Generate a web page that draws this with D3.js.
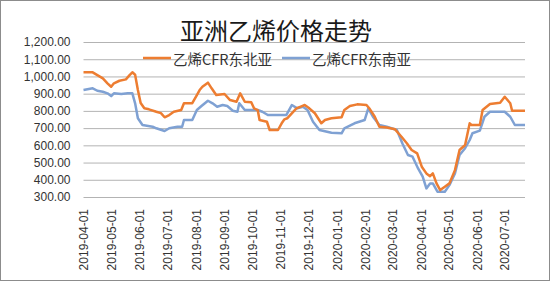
<!DOCTYPE html>
<html>
<head>
<meta charset="utf-8">
<script src="https://cdn.jsdelivr.net/npm/d3@7"></script>
<style>
  body { margin: 0; background: #fff; }
  svg { display: block; font-family: "Open Sans", "Noto Sans CJK SC", sans-serif; }
</style>
</head>
<body>
<div id="chart"></div>
<script>
// series names and tick labels
var seriesNames = ["乙烯CFR东北亚", "乙烯CFR东南亚"];
var yTicks = [300, 400, 500, 600, 700, 800, 900, 1000, 1100, 1200];
var xTicks = ["2019-04-01", "2019-05-01", "2019-06-01", "2019-07-01", "2019-08-01", "2019-09-01",
  "2019-10-01", "2019-11-01", "2019-12-01", "2020-01-01", "2020-02-01", "2020-03-01",
  "2020-04-01", "2020-05-01", "2020-06-01", "2020-07-01"];

// 乙烯CFR东北亚
var neDates = ["2019-04-01", "2019-04-11", "2019-04-16", "2019-04-22", "2019-04-27", "2019-05-01", "2019-05-04",
  "2019-05-10", "2019-05-17", "2019-05-21", "2019-05-24", "2019-05-27", "2019-05-30", "2019-06-02", "2019-06-06",
  "2019-06-11", "2019-06-19", "2019-06-24", "2019-06-28", "2019-07-03", "2019-07-08", "2019-07-16", "2019-07-19",
  "2019-07-28", "2019-08-02", "2019-08-05", "2019-08-08", "2019-08-14", "2019-08-18", "2019-08-23", "2019-09-01",
  "2019-09-07", "2019-09-14", "2019-09-18", "2019-09-23", "2019-09-30", "2019-10-03", "2019-10-07", "2019-10-09",
  "2019-10-17", "2019-10-20", "2019-10-29", "2019-11-02", "2019-11-05", "2019-11-08", "2019-11-13", "2019-11-18",
  "2019-11-24", "2019-11-27", "2019-12-02", "2019-12-08", "2019-12-15", "2019-12-19", "2019-12-26", "2020-01-06",
  "2020-01-09", "2020-01-15", "2020-01-23", "2020-02-02", "2020-02-05", "2020-02-11", "2020-02-16", "2020-02-24",
  "2020-03-04", "2020-03-11", "2020-03-17", "2020-03-22", "2020-03-28", "2020-04-02", "2020-04-07", "2020-04-11",
  "2020-04-14", "2020-04-18", "2020-04-22", "2020-04-27", "2020-05-02", "2020-05-08", "2020-05-13", "2020-05-19",
  "2020-05-24", "2020-05-26", "2020-06-04", "2020-06-07", "2020-06-15", "2020-06-26", "2020-07-01", "2020-07-07",
  "2020-07-09", "2020-07-23"];
var neValues = [1025, 1024, 1008, 989, 960, 940, 960,
  975, 983, 1008, 1024, 1010, 921, 846, 815,
  809, 795, 787, 763, 776, 795, 805, 844,
  845, 892, 921, 940, 964, 931, 892, 898,
  863, 853, 902, 853, 850, 815, 805, 747,
  737, 689, 689, 728, 751, 757, 786, 815,
  828, 834, 815, 786, 728, 747, 757, 763,
  805, 828, 838, 834, 815, 766, 708, 704,
  693, 650, 611, 573, 553, 476, 437, 421,
  437, 379, 340, 360, 379, 456, 573, 602,
  728, 718, 718, 805, 840, 847, 882, 844,
  801, 801];

// 乙烯CFR东南亚
var seDates = ["2019-04-01", "2019-04-11", "2019-04-16", "2019-04-22", "2019-04-27", "2019-05-01", "2019-05-04",
  "2019-05-12", "2019-05-19", "2019-05-24", "2019-05-27", "2019-05-30", "2019-06-04", "2019-06-15", "2019-06-19",
  "2019-06-28", "2019-07-03", "2019-07-12", "2019-07-17", "2019-07-19", "2019-07-28", "2019-08-02", "2019-08-07",
  "2019-08-14", "2019-08-19", "2019-08-24", "2019-08-30", "2019-09-04", "2019-09-10", "2019-09-15", "2019-09-17",
  "2019-09-23", "2019-10-07", "2019-10-12", "2019-10-18", "2019-11-07", "2019-11-13", "2019-11-19", "2019-11-25",
  "2019-11-30", "2019-12-06", "2019-12-13", "2019-12-26", "2020-01-06", "2020-01-09", "2020-01-20", "2020-01-31",
  "2020-02-04", "2020-02-09", "2020-02-16", "2020-02-24", "2020-03-06", "2020-03-12", "2020-03-18", "2020-03-23",
  "2020-03-29", "2020-04-03", "2020-04-07", "2020-04-11", "2020-04-14", "2020-04-19", "2020-04-27", "2020-05-02",
  "2020-05-08", "2020-05-13", "2020-05-19", "2020-05-24", "2020-05-27", "2020-06-04", "2020-06-09", "2020-06-15",
  "2020-07-01", "2020-07-07", "2020-07-12", "2020-07-23"];
var seValues = [921, 931, 917, 911, 902, 886, 902,
  898, 902, 902, 844, 757, 718, 708, 699,
  683, 699, 708, 708, 747, 747, 805, 828,
  859, 844, 824, 834, 828, 801, 795, 844,
  805, 805, 795, 776, 776, 834, 815, 824,
  805, 737, 689, 673, 670, 699, 728, 747,
  815, 766, 718, 708, 689, 611, 544, 534,
  466, 418, 350, 379, 379, 331, 331, 369,
  437, 544, 583, 631, 670, 685, 766, 795,
  795, 766, 718, 718];

var colors = ["#ED7D31", "#7FA1D3"];
var W = 550, H = 281;
var parse = d3.timeParse("%Y-%m-%d");

var svg = d3.select("#chart").append("svg")
  .attr("width", W).attr("height", H);

svg.append("rect")
  .attr("x", 0.5).attr("y", 0.5)
  .attr("width", W - 1).attr("height", H - 1)
  .attr("fill", "#fff").attr("stroke", "#8c8c8c");

var plotLeft = 83.5, plotRight = 525, plotTop = 42, plotBottom = 197;

var x = d3.scaleTime()
  .domain([parse("2019-04-01"), parse("2020-07-23")])
  .range([plotLeft, plotRight]);
var y = d3.scaleLinear()
  .domain([300, 1200])
  .range([plotBottom, plotTop]);

// title
svg.append("text")
  .attr("x", 276).attr("y", 29)
  .attr("text-anchor", "middle")
  .attr("dominant-baseline", "central")
  .style("font-family", "'Noto Sans CJK SC', sans-serif")
  .style("font-size", "24px")
  .attr("fill", "#1a1a1a")
  .text("亚洲乙烯价格走势");

// y axis + gridlines
var gy = svg.append("g")
  .attr("transform", "translate(" + plotLeft + ",0)")
  .call(d3.axisLeft(y).tickValues(yTicks).tickFormat(d3.format(",.2f"))
    .tickSize(-(plotRight - plotLeft)).tickPadding(13));
gy.select(".domain").remove();
gy.selectAll("line").attr("stroke", "#b3b3b3");
gy.selectAll("text").style("font-size", "12px").attr("fill", "#333");

// x axis labels
var gx = svg.append("g")
  .attr("transform", "translate(0," + plotBottom + ")")
  .call(d3.axisBottom(x).tickValues(xTicks.map(parse))
    .tickFormat(d3.timeFormat("%Y-%m-%d")).tickSize(0));
gx.select(".domain").remove();
gx.selectAll("text")
  .attr("transform", "rotate(-90)")
  .attr("x", -12).attr("y", 0).attr("dy", "0.35em")
  .style("text-anchor", "end")
  .style("font-size", "12px")
  .attr("fill", "#333");

// lines
var line = d3.line()
  .x(function(d) { return x(d.date); })
  .y(function(d) { return y(d.value); });

var series = [
  neDates.map(function(d, i) { return {date: parse(d), value: neValues[i]}; }),
  seDates.map(function(d, i) { return {date: parse(d), value: seValues[i]}; })
];

// draw the south-east series first so the north-east one sits on top
[1, 0].forEach(function(k) {
  svg.append("path")
    .datum(series[k])
    .attr("fill", "none")
    .attr("stroke", colors[k])
    .attr("stroke-width", 2.5)
    .attr("stroke-linejoin", "round")
    .attr("d", line);
});

// legend
var legendX = [143, 282];
seriesNames.forEach(function(name, i) {
  var g = svg.append("g").attr("transform", "translate(" + legendX[i] + ",58)");
  g.append("line")
    .attr("x1", 0).attr("x2", 28)
    .attr("stroke", colors[i]).attr("stroke-width", 2.5);
  g.append("text")
    .attr("x", 30).attr("y", 0)
    .attr("dominant-baseline", "central")
    .style("font-family", "'Noto Sans CJK SC', sans-serif")
    .style("font-size", "14.5px")
    .attr("fill", "#333")
    .text(name);
});
</script>
</body>
</html>
